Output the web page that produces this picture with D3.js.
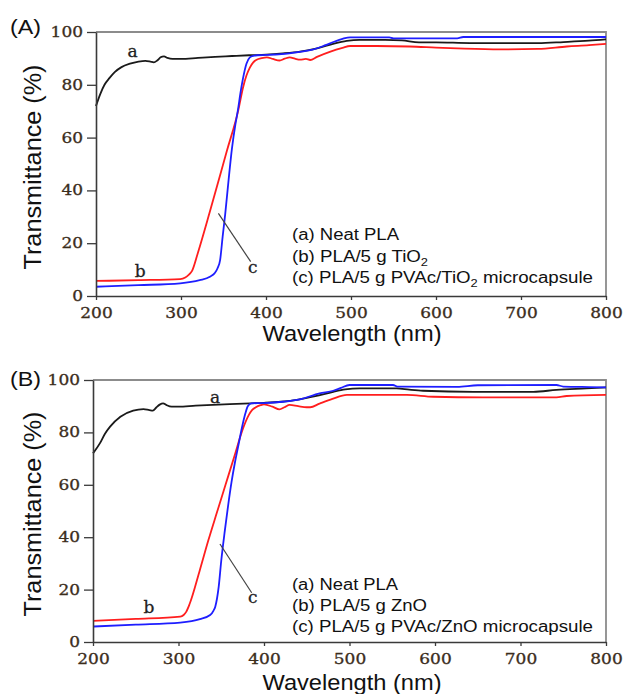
<!DOCTYPE html>
<html>
<head>
<meta charset="utf-8">
<script src="https://cdn.jsdelivr.net/npm/d3@7"></script>
<style>
  body { margin: 0; background: #fff; }
  svg { display: block; }
</style>
</head>
<body>
<svg id="chart" width="624" height="694"></svg>
<script>
// Axis ticks
const wavelengthTicks = [200, 300, 400, 500, 600, 700, 800];
const transmittanceTicks = [0, 20, 40, 60, 80, 100];

// Panel A: UV-vis transmittance, [wavelength nm, transmittance %]
const neatPLA_A = [[200,72.0],[205,76.5],[210,80.0],[216,82.6],[222,84.8],[230,86.7],[240,88.0],[250,88.8],[258,89.1],[264,88.8],[268,88.5],[272,89.2],[276,90.4],[280,90.8],[284,90.2],[290,89.8],[300,89.8],[320,90.2],[340,90.6],[360,90.9],[380,91.2],[400,91.4],[420,91.9],[440,92.6],[460,93.8],[480,95.6],[495,96.6],[510,97.0],[540,97.0],[560,96.8],[580,96.1],[600,96.1],[640,95.8],[680,95.8],[720,95.8],[750,96.2],[780,96.7],[800,97.2]];
const tio2PLA_A = [[200,5.7],[250,6.0],[299,6.4],[305,7.0],[309,8.0],[313,9.5],[320,16.5],[334,32.0],[354,55.0],[367.5,70.5],[373,79.0],[377,83.5],[381,86.5],[385,88.5],[389,89.5],[395,90.1],[401,90.4],[408,89.8],[416,89.2],[422,89.9],[428,90.4],[434,89.9],[440,89.5],[447,89.8],[452,89.4],[460,90.6],[475,92.5],[490,94.0],[499,94.7],[530,94.7],[569,94.5],[600,94.1],[625,93.8],[675,93.4],[720,93.6],[754,94.5],[780,95.0],[800,95.5]];
const capsulePLA_A = [[200,3.5],[250,4.1],[299,4.8],[322,6.0],[334,7.3],[340,8.8],[343,10.5],[346,13.6],[349,22.5],[352,31.0],[356,44.0],[360,56.0],[364,65.0],[367,70.5],[370,77.0],[373,82.5],[377,88.0],[381,90.4],[385,91.0],[390,91.2],[400,91.3],[418,91.6],[440,92.5],[455,93.3],[470,95.0],[480,96.3],[490,97.4],[499,98.0],[545,98.0],[550,97.6],[625,97.6],[632,98.1],[700,98.1],[800,98.1]];

// Panel B
const neatPLA_B = [[200,72.0],[208,75.8],[214,79.5],[220,82.2],[232,86.0],[247,88.3],[259,88.9],[266,88.5],[270,88.3],[274,89.5],[278,90.6],[282,91.1],[286,90.4],[292,89.8],[300,89.8],[320,90.2],[340,90.5],[360,90.8],[384,91.1],[400,91.3],[420,91.7],[440,92.5],[460,93.8],[481,95.5],[495,96.4],[512,96.8],[555,96.8],[570,96.3],[586,95.9],[645,95.5],[715,95.5],[742,96.2],[777,96.8],[800,97.2]];
const znoPLA_B = [[200,8.1],[250,8.8],[302,9.7],[306,10.3],[309,11.5],[313,14.5],[325,27.5],[335,38.9],[345,49.5],[355,60.0],[365,70.5],[376,82.0],[382,86.5],[386,88.5],[390,89.5],[396,90.4],[400,90.7],[410,89.8],[418,88.8],[424,89.6],[430,90.5],[440,90.0],[450,89.6],[454,89.6],[465,91.0],[480,92.8],[497,94.3],[567,94.3],[598,93.6],[656,93.4],[742,93.4],[754,93.9],[800,94.3]];
const capsulePLA_B = [[200,5.9],[250,6.6],[302,7.4],[325,8.7],[337,10.3],[341,12.0],[343,13.5],[345,16.5],[347,21.0],[350,31.0],[354,42.0],[358,52.0],[362,61.0],[366,68.5],[370,75.0],[374,81.5],[378,87.0],[381,90.0],[385,91.1],[400,91.2],[422,91.7],[442,92.6],[465,94.9],[481,95.9],[490,97.0],[500,98.1],[551,98.1],[556,97.5],[626,97.4],[650,98.0],[742,98.1],[750,97.5],[780,97.3],[800,97.2]];

const legendA = ["(a) Neat PLA", "(b) PLA/5 g TiO|2", "(c) PLA/5 g PVAc/TiO|2| microcapsule"];
const legendB = ["(a) Neat PLA", "(b) PLA/5 g ZnO", "(c) PLA/5 g PVAc/ZnO microcapsule"];

const panels = [
  {
    tag: "(A)", tagY: 34,
    left: 96, right: 606, top: 32, bottom: 296,
    series: [neatPLA_A, tio2PLA_A, capsulePLA_A],
    legend: legendA, legendX: 292, legendY: [240, 262, 283], legendW: [107, 136, 301],
    labels: [["a", 243, 90.5], ["b", 252, 7.3], ["c", 384.5, 8.8]],
    pointer: [[344, 31.3], [382, 13]],
    yTitleY: 167, xTitleY: 341
  },
  {
    tag: "(B)", tagY: 386,
    left: 93, right: 606, top: 380, bottom: 642,
    series: [neatPLA_B, znoPLA_B, capsulePLA_B],
    legend: legendB, legendX: 292, legendY: [590, 611, 632], legendW: [106, 135, 301],
    labels: [["a", 342.7, 91.2], ["b", 265.5, 11.1], ["c", 386.8, 14.9]],
    pointer: [[348.5, 37.4], [385.6, 18.8]],
    yTitleY: 514, xTitleY: 690
  }
];

const colors = ["#1a1a1a", "#ff1e1e", "#1e1eff"];
const svg = d3.select("#chart");
const sans = "'Liberation Sans', Arial, sans-serif";
const serif = "'DejaVu Serif', 'Liberation Serif', serif";

panels.forEach(p => {
  const x = d3.scaleLinear().domain([200, 800]).range([p.left, p.right]);
  const y = d3.scaleLinear().domain([0, 100]).range([p.bottom, p.top]);
  const g = svg.append("g");

  // top and right frame
  g.append("path")
    .attr("d", `M${p.left},${p.top}H${p.right}V${p.bottom}`)
    .attr("fill", "none").attr("stroke", "#8c8c8c").attr("stroke-width", 1.8);

  // curves
  const line = d3.line().x(d => x(d[0])).y(d => y(d[1])).curve(d3.curveMonotoneX);
  p.series.forEach((s, i) => {
    g.append("path").datum(s).attr("d", line)
      .attr("fill", "none").attr("stroke", colors[i])
      .attr("stroke-width", 1.8).attr("stroke-linejoin", "round");
  });

  // axes
  const ax = g.append("g").attr("transform", `translate(0,${p.bottom})`)
    .call(d3.axisBottom(x).tickValues(wavelengthTicks).tickSize(4).tickPadding(8).tickSizeOuter(0));
  const ay = g.append("g").attr("transform", `translate(${p.left},0)`)
    .call(d3.axisLeft(y).tickValues(transmittanceTicks).tickSize(9).tickPadding(4).tickSizeOuter(0));
  [ax, ay].forEach(a => {
    a.select(".domain").attr("stroke", "#3a3a3a").attr("stroke-width", 1.6);
    a.selectAll(".tick line").attr("stroke", "#3a3a3a").attr("stroke-width", 1.3);
    a.selectAll(".tick text")
      .attr("font-family", serif).attr("font-size", 14).attr("font-weight", 500)
      .attr("fill", "#3b2d1c").attr("stroke", "#3b2d1c").attr("stroke-width", 0.3)
      .attr("textLength", function () { return this.textContent.length * 10.8; })
      .attr("lengthAdjust", "spacingAndGlyphs");
  });

  // panel tag
  g.append("text").attr("x", 10).attr("y", p.tagY).text(p.tag)
    .attr("font-family", sans).attr("font-size", 21).attr("fill", "#111")
    .attr("textLength", 31).attr("lengthAdjust", "spacingAndGlyphs");

  // axis titles
  g.append("text")
    .attr("transform", `translate(41,${p.yTitleY}) rotate(-90)`)
    .attr("text-anchor", "middle").attr("font-family", sans).attr("font-size", 23)
    .attr("textLength", 205).attr("lengthAdjust", "spacingAndGlyphs")
    .attr("fill", "#111").text("Transmittance (%)");
  g.append("text")
    .attr("x", 352).attr("y", p.xTitleY)
    .attr("text-anchor", "middle").attr("font-family", sans).attr("font-size", 22)
    .attr("textLength", 179).attr("lengthAdjust", "spacingAndGlyphs")
    .attr("fill", "#111").text("Wavelength (nm)");

  // legend (segments after "|" alternate into subscripts)
  p.legend.forEach((txt, i) => {
    const t = g.append("text").attr("x", p.legendX).attr("y", p.legendY[i])
      .attr("font-family", sans).attr("font-size", 16).attr("fill", "#111")
      .attr("textLength", p.legendW[i]).attr("lengthAdjust", "spacingAndGlyphs");
    txt.split("|").forEach((seg, k) => {
      const sub = k % 2 === 1;
      const ts = t.append("tspan").text(seg);
      if (sub) ts.attr("font-size", 11).attr("dy", 4);
      else if (k > 0) ts.attr("dy", -4);
    });
  });

  // curve labels and pointer
  p.labels.forEach(([s, wl, tr]) => {
    g.append("text").attr("x", x(wl)).attr("y", y(tr)).attr("text-anchor", "middle")
      .attr("font-family", serif).attr("font-size", 17).attr("font-weight", 500)
      .attr("fill", "#222").attr("stroke", "#222").attr("stroke-width", 0.3).text(s);
  });
  g.append("line")
    .attr("x1", x(p.pointer[0][0])).attr("y1", y(p.pointer[0][1]))
    .attr("x2", x(p.pointer[1][0])).attr("y2", y(p.pointer[1][1]))
    .attr("stroke", "#444").attr("stroke-width", 1.2);
});
</script>
</body>
</html>
